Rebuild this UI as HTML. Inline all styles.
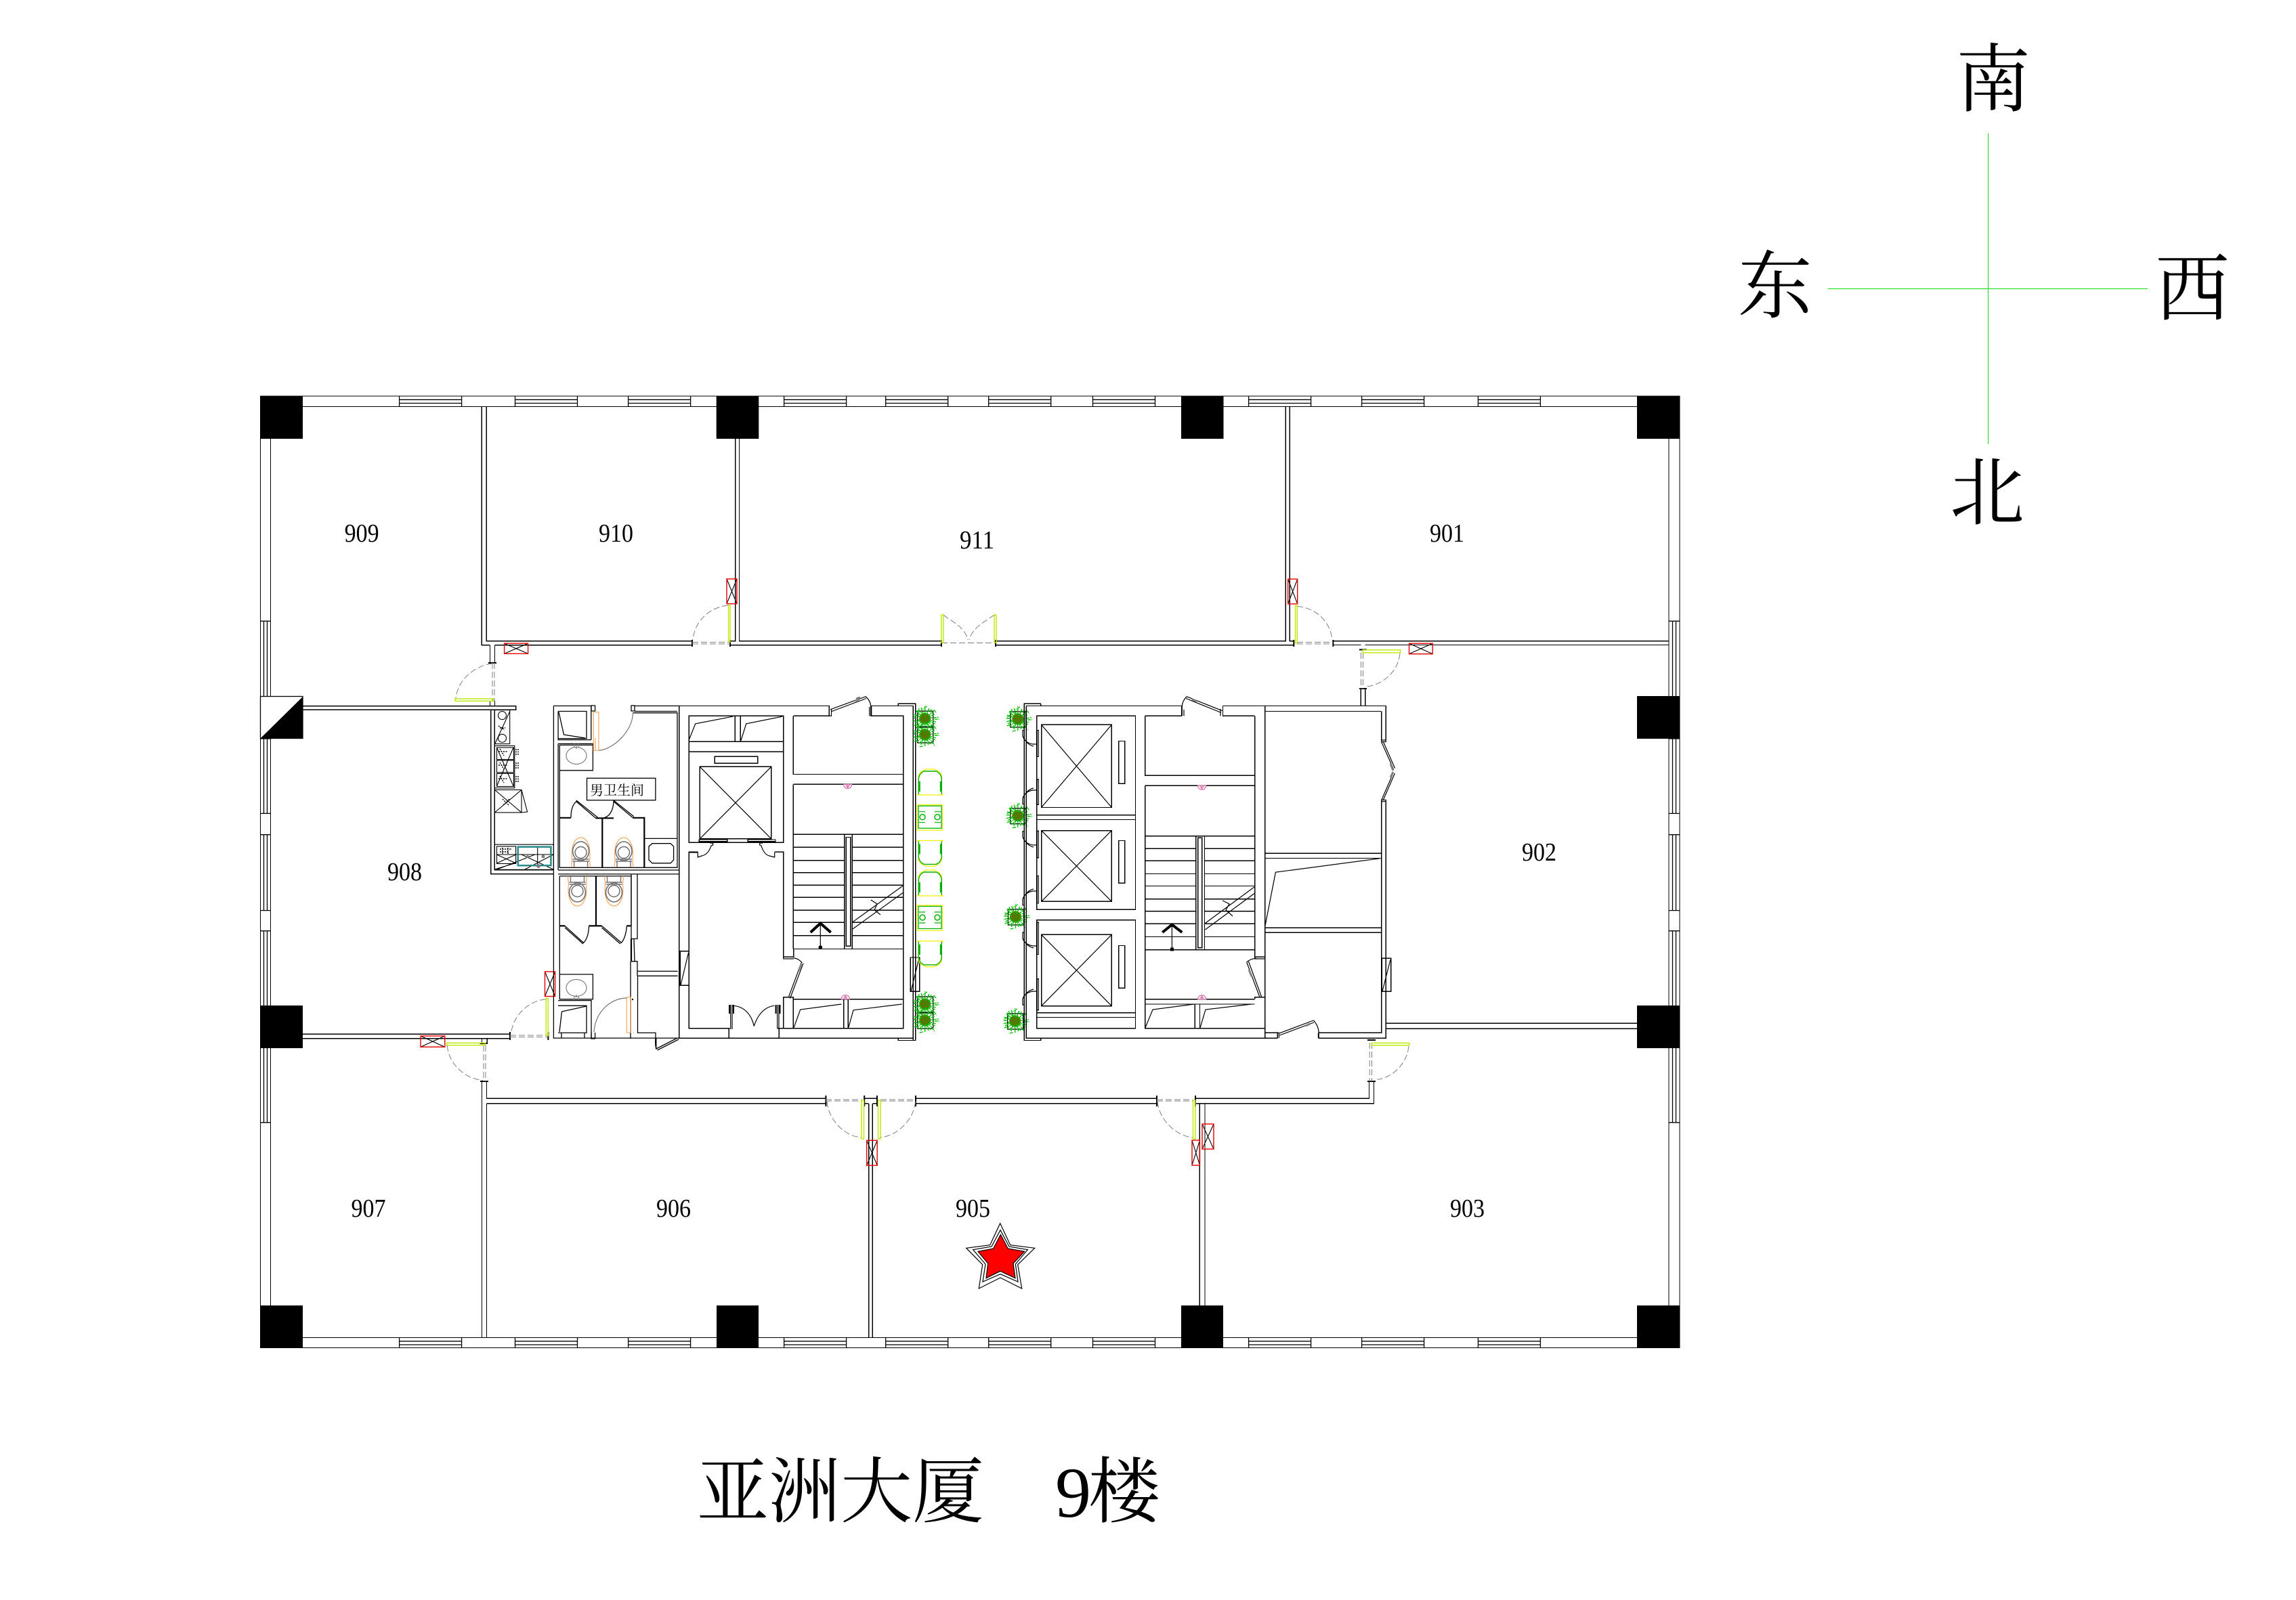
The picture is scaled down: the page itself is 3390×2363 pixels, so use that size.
<!DOCTYPE html>
<html><head><meta charset="utf-8"><title>亚洲大厦 9楼</title>
<style>html,body{margin:0;padding:0;background:#fff}svg{display:block}
.cjk{font-family:"Liberation Serif","Noto Serif CJK SC",serif;fill:#000}
.num{font-family:"Liberation Serif",serif;font-size:38px;fill:#000}
</style></head><body>
<svg xmlns="http://www.w3.org/2000/svg" width="3390" height="2363" viewBox="0 0 3390 2363">
<defs>
<path id="wh" d="M0 0V15.5M92 0V15.5M0 5.3H92M0 10.5H92" fill="none" stroke="#000" stroke-width="1.3"/>
<g id="vw" fill="none" stroke="#000" stroke-width="1.3"><path d="M384.5 917.3H399.5M389.5 917.3V1028M394.5 917.3V1028M384.5 1091H399.5M389.5 1091V1201.4M394.5 1091V1201.4M384.5 1201.4H399.5M384.5 1232.7H399.5M389.5 1232.7V1344.6M394.5 1232.7V1344.6M384.5 1344.6H399.5M384.5 1374.8H399.5M389.5 1374.8V1485M394.5 1374.8V1485M389.5 1548V1657.8M394.5 1548V1657.8M384.5 1657.8H399.5"/></g>
<g id="plant"><rect x="-11" y="-11" width="23" height="23" fill="none" stroke="#000" stroke-width="1.3"/>
<circle r="8.500" fill="#607000"/>
<path d="M0 0L-18 4M0 0L-16 -6M0 0L-13 -11M0 0L-6 -17M0 0L0 -19M0 0L6 -15M0 0L12 -10M0 0L20 -2M0 0L16 5M0 0L12 12M0 0L5 15M0 0L0 18M0 0L-6 15M0 0L-12 11M-16 -3L-8 -7M-12 -12L-4 -8M6 -13L1 -5M14 -6L6 -3M15 8L6 4M8 14L3 6M-8 13L-3 6M-15 7L-7 3M-17 -1L-10 -1M-9 -15L-9 -8M9 -14L8 -7M14 1L21 1M13 -13L17 -8M-16 10L-10 8M10 10L14 16M-3 17L-8 18M3 -18L-3 -14" stroke="#00c000" stroke-width="1.400" fill="none" stroke-dasharray="5 1"/>
<circle r="5" fill="#607000" opacity=".85"/></g>
<g id="chair" fill="none"><path d="M1 38L3 36V16Q1 8 8 3L14 0H26L32 3Q39 8 37 16V36L39 38H1Z" stroke="#f2f200" stroke-width="1.2"/>
<path d="M3 37V14Q4 6 11 3H29Q36 6 37 14V37" stroke="#00b000" stroke-width="1.4"/><path d="M4 18V33M36 18V33" stroke="#00b000" stroke-width="3"/></g>
<g id="table" fill="none"><rect width="37.5" height="37.5" stroke="#f2f200" stroke-width="1.2"/><rect x="2" y="1.5" width="34" height="33" stroke="#00b000" stroke-width="1.3"/><circle cx="8" cy="18" r="4" stroke="#00b000" stroke-width="1.5"/><circle cx="30" cy="18" r="4" stroke="#00b000" stroke-width="1.5"/><path d="M3 10H12M3 26H12M26 10H35M26 26H35" stroke="#00b000" stroke-width="1.2"/></g>
<g id="wc" fill="none"><path d="M-14 0L-13 -12Q-15 -32 -7 -41Q0 -47 7 -41Q15 -32 13 -12L14 0" stroke="#f4aa60" stroke-width="1.2"/><ellipse cy="-24" rx="12" ry="14" stroke="#707070" stroke-width="1.6"/><ellipse cy="-22" rx="8.500" ry="8.500" stroke="#707070" stroke-width="1.500"/><path d="M-12 -12H12M-12 -9H12M-10 -9V0M10 -9V0" stroke="#707070" stroke-width="1.4"/></g>
<g id="sink" fill="none" stroke="#808080" stroke-width="1.2"><ellipse rx="15" ry="12.5"/><path d="M-3 -12V-18M3 -12V-18M0 -14V-10"/></g>
<g id="pk" fill="none" stroke="#d87ab0" stroke-width="1.3"><path d="M-6 0A6 6 0 0 0 6 0ZM0 0V5M-3 0L0 5M3 0L0 5"/></g>
</defs>
<rect width="3390" height="2363" fill="#fff"/>

<!-- compass -->
<path d="M2935.5 197V656M2699 426.5H3171" stroke="#11dd11" stroke-width="1.400" fill="none" shape-rendering="crispEdges"/>
<g class="cjk" font-size="110"><text x="2888" y="156">南</text><text x="2566" y="461">东</text><text x="3182" y="465">西</text><text x="2879" y="766">北</text></g>

<!-- title -->
<text class="cjk" font-size="106" x="1029 1135 1241 1347" y="2240">亚洲大厦</text>
<text class="cjk" font-size="106" x="1558" y="2240">9</text>
<text class="cjk" font-size="106" x="1607" y="2240">楼</text>

<!-- windows -->
<g>
<use href="#wh" x="589.6" y="585"/><use href="#wh" x="760.5" y="585"/><use href="#wh" x="927.6" y="585"/><use href="#wh" x="1157.6" y="585"/><use href="#wh" x="1307.7" y="585"/><use href="#wh" x="1459.7" y="585"/><use href="#wh" x="1613.5" y="585"/><use href="#wh" x="1843.6" y="585"/><use href="#wh" x="2010.6" y="585"/><use href="#wh" x="2182.4" y="585"/>
<use href="#wh" x="589.6" y="1975.5"/><use href="#wh" x="760.5" y="1975.5"/><use href="#wh" x="927.6" y="1975.5"/><use href="#wh" x="1157.6" y="1975.5"/><use href="#wh" x="1307.7" y="1975.5"/><use href="#wh" x="1459.7" y="1975.5"/><use href="#wh" x="1613.5" y="1975.5"/><use href="#wh" x="1843.6" y="1975.5"/><use href="#wh" x="2010.6" y="1975.5"/><use href="#wh" x="2182.4" y="1975.5"/>
<use href="#vw"/><use href="#vw" x="2080"/>
</g>

<!-- main walls -->
<g fill="none" stroke="#000" stroke-width="1.4" shape-rendering="crispEdges">
<path d="M384.5 585H2480V1990.5H384.5ZM399.5 600.5H2464M399.5 1975.5H2464M399.5 600.5V1975.5M2464 600.5V1975.5"/>
<path d="M711.4 600.5V952.9H723.5M718.4 600.5V946.6H1022M730.5 952.9H1022M1085.8 648V946.6H1078M1091.5 648V946.6H1390M1078 952.9H1390M1470 946.6H1898.4V600.5M1904.3 600.5V946.6H1910.3M1470 952.9H1910.3M1968.3 946.6H2464M1968.3 952.5H2009.5M2015.4 952.5H2464"/>
<path d="M723.5 952.9V979M730.5 952.9V979M723.5 1035V1042.6M730.5 1035V1042.6"/>
<path d="M447 1042.6H761.8V1048.4H447M724.6 1048.4V1290.9H817.4M730.4 1048.4V1285H817.4"/>
<path d="M447 1527.3H753M447 1533.6H753M711.5 1533.6V1540.3M719.2 1533.6V1540.3M711.5 1597V1975.5M718.5 1597V1622.4H1219.4M718.5 1629.8V1975.5M718.5 1629.8H1219.4M1276.2 1622.4H1295M1282.7 1629.8V1975.5M1288.3 1629.8V1975.5M1276.2 1629.8H1282.7M1288.3 1629.8H1295M1352 1622.4H1708M1352 1629.8H1708M1765 1622.4H2021.5V1597M1771.4 1629.8V1928M1779 1629.8V1928M1765 1629.8H2028.5V1597"/>
<path d="M2009.4 1017V1042.5M2015.7 1017V1042.5"/>
<path d="M2046.3 1511.2H2417M2046.3 1519.4H2417"/>
</g>
<path d="M1022 945V955M1078 945V955M1390 945V955M1470 945V955M1910.3 945V955M1968.3 945V955M721 979H733M753 1524V1536M809.4 1524V1536M709 1597H721M708.5 1541H720M1219.4 1618V1634M1276.2 1618V1634M1295 1618V1634M1352 1618V1634M1708 1618V1634M1765 1618V1634M2007 959.5H2018M2007 1017H2018M2019 1597H2031M2019 1536H2031" stroke="#000" stroke-width="2" fill="none"/>

<!-- columns -->
<g fill="#000"><rect x="384" y="585" width="63" height="63"/><rect x="1057.7" y="585" width="62.6" height="63"/><rect x="1744" y="585" width="62.5" height="63"/><rect x="2417" y="585" width="63" height="63"/>
<rect x="2417" y="1028" width="63" height="63"/><rect x="384" y="1485" width="63" height="63"/><rect x="2417" y="1485" width="63" height="63"/>
<rect x="384" y="1928" width="63" height="62.7"/><rect x="1058" y="1928" width="62" height="62.7"/><rect x="1744" y="1928" width="62" height="62.7"/><rect x="2417" y="1928" width="63" height="62.7"/>
<rect x="384.5" y="1028.5" width="62.5" height="62" fill="#fff" stroke="#000" stroke-width="1.3"/><path d="M447 1029V1091H384Z"/></g>

<!-- doors: dashes, arcs -->
<g fill="none" stroke="#808080" stroke-width="1">
<g stroke-dasharray="9 4"><path d="M1022 948.5H1078M1022 951H1078M1390 949.5H1470M1915 948.5H1968M1915 951H1968M727 979V1035M730 979V1035M753 1529H809M753 1531.5H809M714 1544V1597M717 1544V1597M1219 1624H1272M1219 1626H1272M1300 1624H1352M1300 1626H1352M1708 1624H1761M1708 1626H1761M2022.3 1540V1597M2025.5 1540V1597M2009.5 964V1017M2012.5 964V1017"/>
<path d="M1075 894C1045 897 1025 920 1023 945M727 980C700 983 675 1005 673 1032M806 1475.700C780 1478 758 1500 755 1524M660.300 1544C662 1570 685 1593 713 1595.400M1221 1626.800C1223 1652 1245 1678 1272 1680M1351.500 1626.800C1350 1652 1326 1678 1298.600 1680M1709 1627C1711 1652 1735 1678 1762 1680M2080 1545C2078 1570 2056 1592 2033.500 1594.300M1915 895.200C1945 898 1965 920 1966.700 944.800M2067 965C2065 990 2043 1012 2015.400 1014.300M1393 908C1400 915 1425 925 1429 945M1468 908C1460 915 1436 925 1431 945"/></g>
</g>

<!-- door leaves -->
<g fill="none" stroke="#b9ea00" stroke-width="1.4">
<rect x="1075.500" y="894" width="2.500" height="54"/><rect x="672" y="1032" width="56.500" height="3.400"/><rect x="806.300" y="1474.600" width="3" height="55"/><rect x="659.600" y="1540.300" width="56.800" height="3.300"/><rect x="1272" y="1625" width="3.500" height="57"/><rect x="1296.500" y="1625" width="3.500" height="57"/><rect x="1761.500" y="1625" width="3.500" height="57"/><rect x="2025.200" y="1540.400" width="55.600" height="3.400"/><rect x="1912.500" y="894.800" width="2.700" height="55"/><rect x="2012.200" y="959.900" width="55.300" height="4"/><rect x="1390" y="908" width="3" height="41"/><rect x="1468" y="908" width="3" height="41"/>
</g>

<!-- red boxes -->
<g fill="none" stroke="#000" stroke-width="1.1">
<path d="M1073 855L1088 891.700M1088 855L1073 891.700M744.600 950.200L779.600 965.400M779.600 950.200L744.600 965.400M804.500 1435L819.600 1471.500M819.600 1435L804.500 1471.500M621 1530L656.800 1546.200M656.800 1530L621 1546.200M1279.700 1684.200L1295.200 1721.200M1295.200 1684.200L1279.700 1721.200M1760 1684L1771.500 1721M1771.500 1684L1760 1721M1775 1660L1792 1697M1792 1660L1775 1697M1901.600 855.200L1915.700 891.900M1915.700 855.200L1901.600 891.900M2080.500 950.300L2115.200 965.800M2115.200 950.300L2080.500 965.800"/></g>
<g fill="none" stroke="#e60000" stroke-width="1.4">
<rect x="1073" y="855" width="15" height="36.700"/><rect x="744.600" y="950.200" width="35" height="15.200"/><rect x="804.500" y="1435" width="15.100" height="36.500"/><rect x="621" y="1530" width="35.800" height="16.200"/><rect x="1279.700" y="1684.200" width="15.500" height="37"/><rect x="1760" y="1684" width="11.500" height="37"/><rect x="1775" y="1660" width="17" height="37"/><rect x="1901.600" y="855.200" width="14.100" height="36.700"/><rect x="2080.500" y="950.300" width="34.700" height="15.500"/>
</g>

<!-- kitchen -->
<g fill="none" stroke="#000" stroke-width="1.1">
<rect x="730.400" y="1048.600" width="22.300" height="50"/><circle cx="741.500" cy="1056.600" r="6"/><circle cx="741.500" cy="1090.300" r="6"/><path d="M753 1050L731 1098"/>
<rect x="730.400" y="1101.400" width="29.400" height="62.400"/><rect x="733.500" y="1104" width="25" height="17.700"/><rect x="733.500" y="1123" width="25" height="17.800"/><rect x="733.500" y="1142.400" width="25" height="19.100"/><path d="M733.500 1104L758 1161M758 1104L733.500 1161"/>
<rect x="730.400" y="1166.500" width="39.600" height="33.500"/><path d="M730.400 1166.500L770 1200M770 1166.500L730.400 1200M770 1166.500L778.600 1199L770 1200"/>
<rect x="730.400" y="1247.200" width="87" height="37.100"/><rect x="733.500" y="1250" width="28.100" height="25.500"/><path d="M733.500 1262H817M793.700 1250.700V1278M733 1275L762 1262M733 1262L762 1275M734 1284L790 1262M770 1262L817 1284M775 1284L817 1262M730 1284L760 1275"/>
</g>
<path d="M738 1075h8M736 1072l9 6M736 1110h14M736 1130h14M736 1150h14M738 1106l6 10M738 1126l6 10M738 1146l6 10M762 1106v10M765 1106v10M762 1126v10M765 1126v10M762 1146v10M765 1146v10M742 1180l10 10M752 1180l-10 10M738 1254h18M738 1258h14M742 1252v10M750 1252v10" fill="none" stroke="#000" stroke-width="1.4" stroke-dasharray="2 1.500"/>
<rect x="764.700" y="1250.700" width="48.700" height="27.500" fill="none" stroke="#2a8a8a" stroke-width="2.500"/>
<circle cx="779" cy="1265" r="2" fill="#808080"/><circle cx="802" cy="1265" r="2.500" fill="#808080"/><circle cx="795" cy="1279" r="3" fill="#808080"/>

<!-- toilet block -->
<g fill="none" stroke="#000" stroke-width="1.3">
<path d="M817.400 1042.500H872.800V1092.600M817.400 1042.500V1533.100H1002.700M824.100 1050.500V1092.600H872.800M824 1050.500H866V1090.700H824"/>
<path d="M825 1051.500L832.500 1085L864 1090"/>
<path d="M873 1042V1050H878.600V1042ZM932 1042V1050H937V1042Z"/>
<path d="M824 1098.400H875.400V1137.800H826.300V1100.300H875.400M824.100 1098.400V1285M826.300 1137.800V1281.300H1000V1052.800H934.400M937 1050.500H1000M937 1042.500H1002.700V1533.100"/>
<rect x="866.500" y="1149.300" width="101.400" height="32.500"/>
<path d="M880 1208.600L850.900 1183.700Q843 1190 842.900 1207.800M882.500 1207.300L850.900 1182M889.700 1208.600Q905 1205 906 1183.700L934.400 1207.800M906 1182L936 1206"/>
<path d="M951.300 1238.400H1000M958 1250L963 1245.700H990L994.600 1250V1270L990 1274.800H963L958 1270Z"/>
<path d="M824 1285H1002.700M824 1290.900H1002.700M826.300 1293.900H932V1367.400M826.300 1293.900V1439"/>
<path d="M834 1367.400L861.600 1392.300Q869 1385 869.600 1367.400M834 1370L861 1394M888.400 1367.400L917.400 1392.300Q924 1385 925.400 1367.400M888.400 1370L916 1394"/>
<path d="M932 1291V1386.500H941V1291M936 1386.500L937 1419.800M931 1419.800H941V1434.400H1000.700M931 1419.800V1533.900M941 1441.300H1000.700M941.500 1441.300V1525.400H968V1533M941 1419.800V1441.300"/>
<path d="M826.300 1439H875.400V1475.700H826.300V1439M824.100 1477.600H873V1533M824 1485.300H866V1525.400H824M829 1525.400V1533M863 1525.400V1533M829.500 1494L866 1486M829.500 1494L826 1524"/>
<path d="M873 1525V1534H878.600V1525M968.800 1533V1549L1000 1533M970.500 1551L1002 1535M968 1533Q967 1542 968.800 1549"/>
<path d="M877 1524C879 1495 900 1475 925.400 1473.800M884 1108.300C905 1107 934 1080 934.400 1053.600" stroke="#808080"/>
</g>
<g fill="none" stroke="#000" stroke-width="2.200">
<path d="M826.300 1207.800H842.900M880 1208.300H906M889.300 1207.800V1281.300M934.400 1207.800H951.300V1281M880 1293.900V1367.400M826.300 1367.400H834M869.600 1367.400H888.400M925.400 1367.400H931.300"/>
<path d="M932 1386.500V1419M933 1476H935"/>
</g>
<g fill="none" stroke="#f4aa60" stroke-width="1.200"><path d="M876.300 1051.700V1108.300H884V1051.700ZM879 1090V1108M925.400 1472.600V1525H930.800V1472.600Z"/></g>
<use href="#sink" x="851" y="1116"/><g transform="translate(851 1459) scale(1 -1)"><use href="#sink"/></g>
<use href="#wc" x="857.600" y="1281"/><use href="#wc" x="921" y="1281"/>
<g transform="translate(852.500 1294) scale(1 -1)"><use href="#wc"/></g><g transform="translate(906.500 1294) scale(1 -1)"><use href="#wc"/></g>
<text font-family="'Liberation Serif','Noto Serif CJK SC',serif" font-size="20" x="871 891 911 931" y="1174" fill="#000">男卫生间</text>

<!-- left core -->
<g fill="none" stroke="#000" stroke-width="1.4" shape-rendering="crispEdges">
<path d="M1002.700 1042.500H1224.300V1057.400M1017.300 1057.400H1156.700V1244.200H1017.300ZM1017.300 1095.300H1156.700M1017.300 1110.200H1156.700M1085.300 1057.400V1095.300M1093.300 1057.400V1095.300"/>
<rect x="1055.300" y="1117.100" width="63.400" height="10.300"/><rect x="1033.300" y="1132.400" width="105.400" height="106.400"/>
<rect x="1032.300" y="1240" width="41.400" height="2.600"/><rect x="1104.300" y="1240" width="40.700" height="2.600"/>
<path d="M1030.300 1258.300H1017.300V1518.600H1077.300M1143.700 1258.300H1156.700V1413.300H1171.700V1401.500H1333.700V1057.400H1285M1171.300 1057.400H1224.300M1171.300 1057.400V1143.500H1333.700M1171.300 1158.400V1401.500M1171.300 1158.400H1333.700V1518.600H1156.700V1472.600H1171.300V1475.700M1171.300 1475.700H1333.700M1171.300 1475.700V1518.600M1245.700 1475.700V1518.600M1252.300 1475.700V1518.600"/>
<path d="M1171.300 1232.300H1333.700M1171.300 1251.400H1246.700M1258.300 1251.400H1333.700M1171.300 1270.600H1246.700M1258.300 1270.600H1333.700M1171.300 1288.600H1246.700M1258.300 1288.600H1333.700M1171.300 1307.300H1246.700M1258.300 1307.300H1333.700M1171.300 1325.300H1246.700M1258.300 1325.300H1333.700M1171.300 1344.400H1246.700M1258.300 1344.400H1333.700M1171.300 1362.400H1246.700M1258.300 1362.400H1333.700M1171.300 1381.600H1246.700M1258.300 1381.600H1333.700"/>
<rect x="1246.700" y="1232.300" width="11.600" height="169.200"/><rect x="1249.300" y="1236.500" width="6.400" height="160.800"/>
<path d="M1004.300 1404.900H1017.300V1455.400H1004.300ZM1344.300 1414H1357.700V1464.200H1344.300Z"/>
<path d="M1002.700 1042.500V1533.100H1348.300M1286.700 1042.500H1348.300V1536.500H1351.700V1039.400H1326.300V1042.500M1326.300 1533.100V1536.500H1348.300M1076.300 1518.600V1533.100M1150.300 1518.600V1533.100M1156.700 1518.600H1147.700"/>
</g>
<g fill="none" stroke="#000" stroke-width="1.200">
<path d="M1017.300 1092.600L1026.700 1068.900L1082 1058.200M1094 1093.800L1101.700 1068.900L1155 1058.200M1033.300 1132.400L1138.700 1238.800M1138.700 1132.400L1033.300 1238.800"/>
<path d="M1048 1245H1052.700V1248L1050 1249Q1046 1262 1036 1264L1030.300 1266V1259H1017.300M1126 1245H1121.700V1248L1124 1249Q1128 1262 1136 1264L1143.700 1266V1259"/>
<path d="M1226 1047.800L1278.300 1028.700M1227 1051L1279 1031.500M1278.300 1028.700Q1286 1036 1285.700 1044V1057.400M1224.300 1047V1057.400H1227.500V1047M1283.700 1044V1057.400M1286.700 1042.500V1057.400"/>
<path d="M1259 1361.700L1333.300 1308M1259 1372L1333.300 1318.400M1285.700 1329L1295 1335L1291 1344L1300 1351"/>
<path d="M1171.700 1415Q1178 1415 1184.300 1421.700M1183.300 1421.700L1164 1473.400M1186 1422.700L1166.500 1474.500M1156.700 1413.300V1416H1171.700"/>
<path d="M1172 1517.800L1181.700 1491L1242.300 1483M1252.700 1517.800L1260 1491.800L1331.700 1483"/>
<path d="M1081.700 1485.300C1100 1486 1110 1500 1113.300 1515.500C1118 1500 1128 1487 1143.300 1485.300M1078.700 1484V1520M1081 1484V1520M1147.700 1484V1518.600M1150 1484V1518.600"/>
<path d="M1005 1455L1016.500 1407M1345 1464L1356.500 1417"/>
</g>
<path d="M1077 1484V1497M1083 1484V1497M1145.500 1484V1497M1151.500 1484V1497" stroke="#000" stroke-width="2" fill="none"/>
<path d="M1211.300 1399V1363.600" stroke="#000" stroke-width="1.200"/><path d="M1196.700 1377L1211.300 1363.600L1226.700 1377" stroke="#000" stroke-width="4" fill="none"/><circle cx="1211.300" cy="1399" r="2.800"/>
<path d="M1264 1032L1270 1030M1262 1035L1268 1033M1179 1434L1183 1424" stroke="#808080" stroke-width="3" fill="none"/>
<use href="#pk" x="1251.700" y="1158.500"/><g transform="translate(1248.300 1475.500) scale(1 -1)"><use href="#pk"/></g>

<!-- decor -->
<use href="#plant" x="1365.700" y="1061.200"/><use href="#plant" x="1365.700" y="1085"/><use href="#plant" x="1365.700" y="1483"/><use href="#plant" x="1365.700" y="1507"/>
<use href="#plant" x="1502.800" y="1062"/><use href="#plant" x="1502.800" y="1204.700"/><use href="#plant" x="1499.500" y="1354"/><use href="#plant" x="1498.700" y="1508"/>
<use href="#chair" x="1353.300" y="1136"/><use href="#chair" x="1353.300" y="1285"/>
<g transform="translate(1353.300 1279.400) scale(1 -1)"><use href="#chair"/></g><g transform="translate(1353.300 1427.900) scale(1 -1)"><use href="#chair"/></g>
<use href="#table" x="1354" y="1188.700"/><use href="#table" x="1354" y="1337"/>

<!-- right core -->
<g fill="none" stroke="#000" stroke-width="1.400" shape-rendering="crispEdges">
<path d="M1536.800 1039.400H1512.300V1536.500H1536.800V1533.100M1536.800 1039.400V1042.500M1515.200 1042.500V1533.100H1886.300M1515.200 1042.500H1744.500V1057.400M1805.500 1042.500H2046.300V1093M2039.700 1050.500V1093H2046.300M1805.500 1042.500V1057.400H1852.700M1690.600 1057.400H1744.500"/>
<rect x="1530.600" y="1057.400" width="145.900" height="285.900"/><rect x="1530.600" y="1358.600" width="145.900" height="160"/>
<path d="M1530.600 1203.600H1676.500M1530.600 1210.500H1676.500M1530.600 1495.600H1676.500M1530.600 1502.500H1676.500"/>
<rect x="1537.600" y="1070.400" width="103.700" height="122.100"/><rect x="1537.600" y="1226.600" width="103.700" height="104.800"/><rect x="1537.600" y="1380.400" width="103.700" height="105.300"/>
<rect x="1651.600" y="1094.500" width="9.200" height="62.800"/><rect x="1651.600" y="1241.500" width="9.200" height="62.700"/><rect x="1651.600" y="1396.500" width="9.200" height="62.700"/>
<rect x="1531.400" y="1078.500" width="2.100" height="39"/><rect x="1531.400" y="1151.200" width="2.100" height="37.100"/><rect x="1531.400" y="1227.300" width="2.100" height="39.400"/><rect x="1531.400" y="1293.500" width="2.100" height="40.500"/><rect x="1531.400" y="1362.400" width="2.100" height="47.100"/><rect x="1531.400" y="1445.800" width="2.100" height="46"/>
<path d="M1690.600 1057.400V1145.400H1852.700M1690.600 1160.300H1852.700M1690.600 1160.300V1475.700M1690.600 1402.600H1852.700M1690.600 1475.700H1852.700M1690.600 1483H1852.700M1690.600 1475.700V1518.600H1867.700M1764.400 1483V1518.600M1771.500 1483V1518.600M1852.700 1057.400V1413.300H1867.700V1042.500M1852.700 1475.700V1472.600H1867.700V1533.100"/>
<path d="M1690.600 1234.600H1852.700M1690.600 1253.300H1765.700M1778.500 1253.300H1852.700M1690.600 1271.300H1765.700M1778.500 1271.300H1852.700M1690.600 1290.500H1765.700M1778.500 1290.500H1852.700M1690.600 1308.500H1765.700M1778.500 1308.500H1852.700M1690.600 1327.600H1765.700M1778.500 1327.600H1852.700M1690.600 1345.600H1765.700M1778.500 1345.600H1852.700M1690.600 1364.300H1765.700M1778.500 1364.300H1852.700M1690.600 1383.500H1765.700M1778.500 1383.500H1852.700"/>
<rect x="1765.700" y="1234.600" width="12.800" height="168"/><rect x="1768.600" y="1237.300" width="6.200" height="162.600"/>
<path d="M1867.700 1050.500H2039.700M1867.700 1260.200H2039.700M1867.700 1267.500H2039.700V1370.400H1867.700M1867.700 1377.300H2039.700M2039.700 1183.700V1525.400H1946.400M2046.300 1183.700V1533.100H1946.400M1867.700 1525.400H1888.400M1886.300 1533.100V1525.400M1867.700 1042.500V1533.100"/>
<path d="M2040.500 1415.200H2053.800V1464.200H2040.500Z"/>
</g>
<g fill="none" stroke="#000" stroke-width="1.200">
<path d="M1537.600 1070.400L1641.300 1192.500M1641.300 1070.400L1537.600 1192.500M1537.600 1226.600L1641.300 1331.400M1641.300 1226.600L1537.600 1331.400M1537.600 1380.400L1641.300 1485.700M1641.300 1380.400L1537.600 1485.700"/>
<path d="M1512 1078.500H1510V1087Q1513 1097 1525 1099H1530M1510 1087Q1516 1100 1526 1102M1512 1187.500H1510V1179Q1513 1169 1525 1167H1530M1510 1179Q1516 1166 1526 1164M1512 1227.700H1510V1236Q1513 1246 1525 1248H1530M1510 1236Q1516 1249 1526 1251M1512 1336.800H1510V1328Q1513 1318 1525 1316H1530M1510 1328Q1516 1315 1526 1313M1512 1377H1510V1386Q1513 1395 1525 1397H1530M1510 1386Q1516 1398 1526 1400M1512 1484H1510V1475Q1513 1466 1525 1464H1530M1510 1475Q1516 1463 1526 1461"/>
<path d="M1752 1028.700L1804.600 1049.700M1751 1031.500L1803 1052.500M1752 1028.700Q1745 1036 1745.300 1045V1057.400M1748 1048V1057.400M1802 1047V1057.400"/>
<path d="M1779.300 1363.600L1851.900 1310M1779.300 1373.100L1851.900 1319.600M1805 1330L1815 1335L1810 1344L1820 1353"/>
<path d="M1852.700 1413.300V1416H1867.700M1855.200 1415.200Q1846 1416 1840.700 1421M1840.700 1421L1860.200 1473.400M1843.500 1420L1862.500 1472"/>
<path d="M1691 1517.800L1702 1491L1763 1483M1772 1517.800L1780 1491L1848 1483"/>
<path d="M1888.400 1526.200L1939.400 1507M1889.400 1529L1940 1510M1939.400 1507Q1947 1515 1947.200 1526.200V1533M1888.400 1526V1533.100M1946.400 1525.400V1533.100"/>
<path d="M2039.700 1093H2046.300V1095.500H2039.700ZM2039.700 1181.500H2046.300V1183.700H2039.700ZM2039.700 1095.700L2057.500 1135.900M2042.500 1095.700L2059.500 1134.500M2057.500 1140.800L2039.700 1181.800M2059.500 1142L2042.500 1181"/>
<path d="M1867.700 1368.500L1883.400 1288.200L2036.400 1267.900M2041 1464L2053 1417"/>
</g>
<path d="M1730.400 1401.800V1365.500" stroke="#000" stroke-width="1.200"/><path d="M1716.300 1377L1730.400 1365.500L1745.300 1377" stroke="#000" stroke-width="4" fill="none"/><rect x="1728" y="1399.500" width="5" height="5"/>
<path d="M1760 1033L1767 1036M1844 1432L1848 1442M2053 1128L2057 1138M2053 1148L2057 1140M1928 1515L1934 1512" stroke="#808080" stroke-width="3" fill="none"/>
<use href="#pk" x="1774.600" y="1160.300"/><g transform="translate(1774.600 1475.700) scale(1 -1)"><use href="#pk"/></g>

<!-- room numbers -->
<g class="num" style="font-family:'Liberation Serif',serif">
<text x="508.600" y="800" textLength="51" lengthAdjust="spacingAndGlyphs">909</text>
<text x="884" y="800" textLength="51" lengthAdjust="spacingAndGlyphs">910</text>
<text x="1417" y="810" textLength="51" lengthAdjust="spacingAndGlyphs">911</text>
<text x="2111" y="800" textLength="51" lengthAdjust="spacingAndGlyphs">901</text>
<text x="2247" y="1271" textLength="51" lengthAdjust="spacingAndGlyphs">902</text>
<text x="572" y="1300" textLength="51" lengthAdjust="spacingAndGlyphs">908</text>
<text x="518.500" y="1797" textLength="51" lengthAdjust="spacingAndGlyphs">907</text>
<text x="969" y="1797" textLength="51" lengthAdjust="spacingAndGlyphs">906</text>
<text x="1411" y="1797" textLength="51" lengthAdjust="spacingAndGlyphs">905</text>
<text x="2141" y="1797" textLength="51" lengthAdjust="spacingAndGlyphs">903</text>
</g>

<!-- star -->
<g fill="none" stroke="#000" stroke-width="1.200">
<path d="M1476.700 1806.700L1491.700 1838.700L1527.700 1843.300L1502.700 1867.700L1508.700 1903L1477 1887L1445.300 1903L1450.700 1867.700L1426.700 1843.300L1461.700 1838.700Z"/>
<path d="M1477 1816.700L1490 1841L1517.300 1845.700L1499.300 1867L1503 1893L1477 1881.700L1451 1893L1455 1867L1436.700 1845.700L1464 1841Z"/>
<path d="M1477.300 1823.300L1488.300 1844L1512.700 1848.300L1496 1866L1499 1887.700L1477 1877.300L1456 1887.700L1458.700 1866L1444 1848.300L1466.700 1844Z" fill="#fe0000"/>
</g>
</svg>
</body></html>
